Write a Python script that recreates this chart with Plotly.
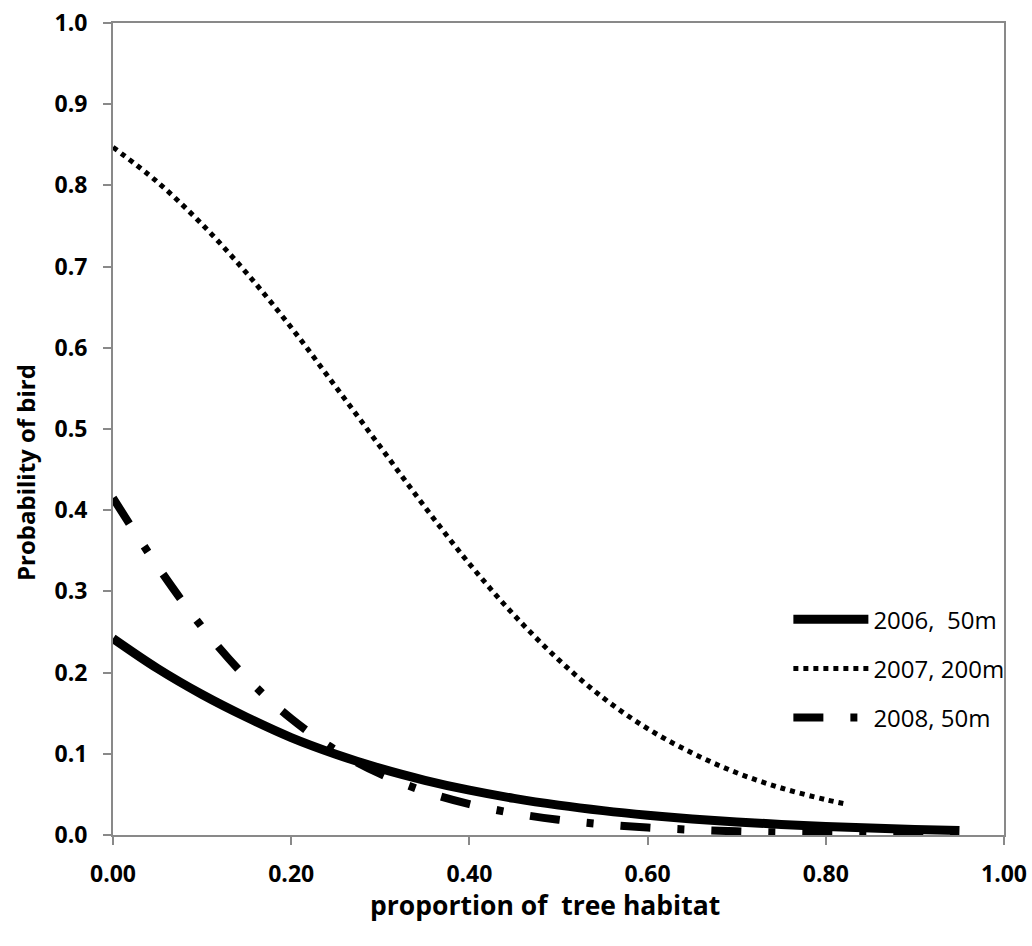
import plotly.graph_objects as go

# ---- data ----
x_2006 = [0.00, 0.05, 0.10, 0.15, 0.20, 0.25, 0.30, 0.35, 0.40, 0.45,
          0.50, 0.55, 0.60, 0.65, 0.70, 0.75, 0.80, 0.85, 0.90, 0.95]
y_2006 = [0.242, 0.205, 0.173, 0.145, 0.120, 0.0995, 0.082, 0.0674, 0.0552, 0.0451,
          0.0368, 0.030, 0.0244, 0.0198, 0.0161, 0.013, 0.0106, 0.0086, 0.0069, 0.0056]

x_2007 = [0.00, 0.05, 0.10, 0.15, 0.20, 0.25, 0.30, 0.35, 0.40, 0.45,
          0.50, 0.55, 0.60, 0.65, 0.70, 0.75, 0.80, 0.825]
y_2007 = [0.847, 0.804, 0.752, 0.692, 0.625, 0.552, 0.478, 0.404, 0.334, 0.271,
          0.216, 0.169, 0.131, 0.101, 0.0766, 0.0579, 0.0435, 0.0377]

x_2008 = [0.00, 0.05, 0.10, 0.15, 0.20, 0.25, 0.30, 0.35, 0.40, 0.45,
          0.50, 0.55, 0.60, 0.65, 0.70, 0.75, 0.80, 0.85, 0.90, 0.95]
y_2008 = [0.415, 0.331, 0.256, 0.1935, 0.1433, 0.1044, 0.0752, 0.0536, 0.038, 0.0268,
          0.0188, 0.0132, 0.0092, 0.0065, 0.0045, 0.0031, 0.0022, 0.0015, 0.0011, 0.0007]

names = ["2006,\u00a0 50m", "2007, 200m", "2008, 50m"]

x_ticks = [0.0, 0.2, 0.4, 0.6, 0.8, 1.0]
x_ticklabels = ["0.00", "0.20", "0.40", "0.60", "0.80", "1.00"]
y_ticks = [0.0, 0.1, 0.2, 0.3, 0.4, 0.5, 0.6, 0.7, 0.8, 0.9, 1.0]
y_ticklabels = ["0.0", "0.1", "0.2", "0.3", "0.4", "0.5", "0.6", "0.7", "0.8", "0.9", "1.0"]

x_title = "proportion of\u00a0 tree habitat"
y_title = "Probability of bird"

FONT = "Open Sans"
AXIS_COLOR = "#898989"

fig = go.Figure()
fig.add_trace(go.Scatter(x=x_2006, y=y_2006, mode="lines", name=names[0],
                         legendgroup="a",
                         line=dict(color="black", width=9, shape="spline")))
fig.add_trace(go.Scatter(x=x_2007, y=y_2007, mode="lines", name=names[1],
                         legendgroup="b",
                         line=dict(color="black", width=5, dash="5px,5px", shape="spline")))
fig.add_trace(go.Scatter(x=x_2008, y=y_2008, mode="lines", name=names[2],
                         legendgroup="c",
                         line=dict(color="black", width=8, dash="30px,27px,7px,27px",
                                   shape="spline")))

fig.update_layout(
    width=1032, height=946,
    margin=dict(l=113, r=28, t=23, b=111),
    paper_bgcolor="white", plot_bgcolor="white",
    font=dict(family=FONT, color="black"),
    showlegend=True,
    legend=dict(x=0.758, y=0.293, xanchor="left", yanchor="top",
                bgcolor="rgba(0,0,0,0)", itemwidth=75,
                tracegroupgap=15,
                font=dict(family=FONT, size=24, color="black")),
    xaxis=dict(range=[0, 1], tickvals=x_ticks, ticktext=x_ticklabels,
               showgrid=False, zeroline=False, automargin=False,
               showline=True, linecolor=AXIS_COLOR, linewidth=2, mirror=True,
               ticks="outside", ticklen=8, tickcolor=AXIS_COLOR, tickwidth=1.5,
               ticklabelstandoff=9,
               tickfont=dict(family=FONT, size=23, color="black", weight="bold")),
    yaxis=dict(range=[0, 1], tickvals=y_ticks, ticktext=y_ticklabels,
               showgrid=False, zeroline=False, automargin=False,
               showline=True, linecolor=AXIS_COLOR, linewidth=2, mirror=True,
               ticks="outside", ticklen=8, tickcolor=AXIS_COLOR, tickwidth=1.5,
               ticklabelstandoff=11,
               tickfont=dict(family=FONT, size=23, color="black", weight="bold")),
    annotations=[
        dict(text=x_title, xref="paper", yref="paper",
             x=(545 - 113) / 891, y=-(905 - 835) / 812,
             xanchor="center", yanchor="middle", showarrow=False,
             font=dict(family=FONT, size=26.5, color="black", weight="bold")),
        dict(text=y_title, xref="paper", yref="paper", textangle=-90,
             x=-(113 - 25) / 891, y=(835 - 473) / 812,
             xanchor="center", yanchor="middle", showarrow=False,
             font=dict(family=FONT, size=24, color="black", weight="bold")),
    ],
)

fig.write_html("out.html",
               config={"displayModeBar": False},
               post_script="document.body.style.margin='0';document.body.style.overflow='hidden';")
